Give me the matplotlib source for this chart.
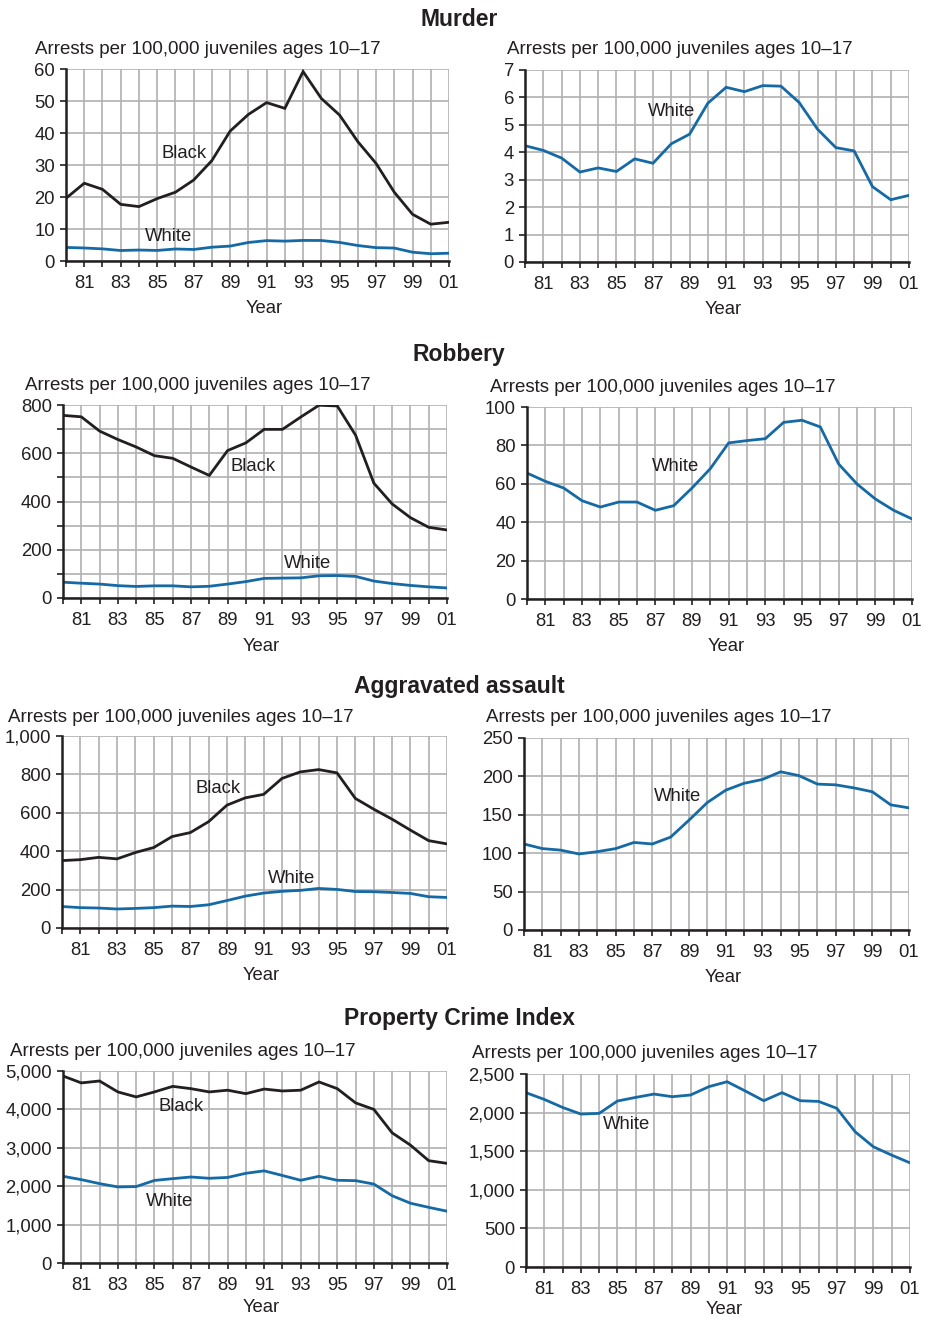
import matplotlib
matplotlib.use("Agg")
import matplotlib.pyplot as plt

plt.rcParams['font.family'] = ['Liberation Sans', 'DejaVu Sans']

years = list(range(1980, 2002))

# Murder
murder_black = [19.6, 24.3, 22.4, 17.7, 17.0, 19.5, 21.5, 25.3, 31.4, 40.6, 45.8,
                49.5, 47.7, 59.2, 50.8, 45.6, 37.3, 30.5, 21.5, 14.6, 11.5, 12.1]
murder_white = [4.24, 4.07, 3.79, 3.28, 3.43, 3.30, 3.76, 3.60, 4.31, 4.66, 5.79,
                6.37, 6.21, 6.43, 6.41, 5.81, 4.84, 4.17, 4.05, 2.75, 2.27, 2.43]

# Robbery
robbery_black = [757, 751, 692, 657, 626, 590, 579, 543, 508, 611, 643,
                 699, 699, 750, 799, 796, 675, 476, 390, 333, 293, 282]
robbery_white = [65.6, 61.3, 57.8, 51.2, 47.9, 50.5, 50.5, 46.2, 48.6, 57.8, 67.9,
                 81.3, 82.5, 83.5, 92.0, 93.1, 89.6, 70.3, 59.9, 52.1, 46.2, 41.7]

# Aggravated assault
assault_black = [351, 356, 368, 360, 393, 419, 476, 497, 554, 640, 678,
                 696, 779, 813, 825, 808, 675, 619, 567, 510, 455, 438]
assault_white = [112, 106, 104, 99, 102, 106, 114, 112, 121, 143, 166,
                 182, 191, 196, 206, 201, 190, 189, 185, 180, 163, 159]

# Property Crime Index
property_black = [4870, 4690, 4740, 4455, 4325, 4455, 4600, 4540, 4455, 4500, 4410,
                  4530, 4480, 4500, 4715, 4540, 4170, 4000, 3390, 3070, 2665, 2595]
property_white = [2258, 2171, 2067, 1981, 1990, 2150, 2197, 2240, 2206, 2228, 2336,
                  2400, 2279, 2154, 2258, 2154, 2145, 2055, 1752, 1557, 1449, 1349]

titles = ["Murder", "Robbery", "Aggravated assault", "Property Crime Index"]
subtitle = "Arrests per 100,000 juveniles ages 10\u201317"

BLACK = '#231f20'
BLUE = '#156aa6'
GRID = '#b0b0b0'
W, H = 933, 1319

fig = plt.figure(figsize=(W / 100, H / 100), dpi=100)


def add_panel(box, series, ylim, yticks, labels, minor=None, sub_x=0, sub_y=0, year_y=-0.205):
    left, top, right, bottom = box
    ax = fig.add_axes([left / W, 1 - bottom / H, (right - left) / W, (bottom - top) / H])
    for vals, color in series:
        ax.plot(years, vals, color=color, lw=2.0, solid_joinstyle='miter', zorder=3)
    ax.set_xlim(1980, 2001)
    ax.set_ylim(*ylim)
    ax.set_xticks(years)
    ax.set_xticklabels([("%02d" % (y % 100)) if y % 2 == 1 else "" for y in years])
    ax.set_yticks(yticks)
    ax.set_yticklabels(["{:,}".format(v) for v in yticks])
    if minor:
        ax.set_yticks(minor, minor=True)
        ax.grid(True, which='minor', axis='y', color=GRID, lw=1.2)
    ax.grid(True, color=GRID, lw=1.2)
    ax.set_axisbelow(True)
    for s in ['top', 'right']:
        ax.spines[s].set_visible(False)
    for s in ['left', 'bottom']:
        ax.spines[s].set_linewidth(1.8)
        ax.spines[s].set_color(BLACK)
        ax.spines[s].set_zorder(4)
    ax.tick_params(which='both', direction='out', length=4, width=1.2, color=BLACK,
                   labelsize=13.3, labelcolor=BLACK, pad=4)
    ax.tick_params(axis='x', pad=6)
    ax.set_xlabel("Year", fontsize=13.3, color=BLACK, labelpad=5)
    ax.xaxis.set_label_coords(0.517, year_y)
    for txt, x, y in labels:
        ax.text(x, y, txt, fontsize=13.3, color=BLACK, ha='center', va='center', zorder=5)
    fig.text(sub_x / W, 1 - sub_y / H, subtitle, fontsize=13.5, color=BLACK,
             ha='left', va='center')
    return ax


# Murder
add_panel((66, 69, 449, 261), [(murder_black, BLACK), (murder_white, BLUE)],
          (0, 60), [0, 10, 20, 30, 40, 50, 60],
          [("Black", 1986.5, 33.7), ("White", 1985.6, 7.8)], sub_x=35, sub_y=50)
add_panel((525, 70, 909, 262), [(murder_white, BLUE)],
          (0, 7), [0, 1, 2, 3, 4, 5, 6, 7],
          [("White", 1988.0, 5.5)], sub_x=507, sub_y=50)

# Robbery
add_panel((63, 405, 447, 598), [(robbery_black, BLACK), (robbery_white, BLUE)],
          (0, 800), [0, 200, 400, 600, 800],
          [("Black", 1990.4, 547), ("White", 1993.4, 145)],
          minor=[100, 300, 500, 700], sub_x=25, sub_y=386)
add_panel((527, 407, 912, 599), [(robbery_white, BLUE)],
          (0, 100), [0, 20, 40, 60, 80, 100],
          [("White", 1988.1, 69)], sub_x=490, sub_y=388)

# Aggravated assault
add_panel((62, 736, 447, 928), [(assault_black, BLACK), (assault_white, BLUE)],
          (0, 1000), [0, 200, 400, 600, 800, 1000],
          [("Black", 1988.5, 729), ("White", 1992.5, 260)], sub_x=8, sub_y=718)
add_panel((524, 738, 909, 930), [(assault_white, BLUE)],
          (0, 250), [0, 50, 100, 150, 200, 250],
          [("White", 1988.35, 174)], sub_x=486, sub_y=718)

# Property Crime Index
add_panel((63, 1071, 447, 1263), [(property_black, BLACK), (property_white, BLUE)],
          (0, 5000), [0, 1000, 2000, 3000, 4000, 5000],
          [("Black", 1986.45, 4088), ("White", 1985.85, 1614)], sub_x=10, sub_y=1052,
          year_y=-0.19)
add_panel((526, 1074, 910, 1267), [(property_white, BLUE)],
          (0, 2500), [0, 500, 1000, 1500, 2000, 2500],
          [("White", 1985.5, 1840)], sub_x=472, sub_y=1053, year_y=-0.175)

for title, ypx in zip(titles, [19, 355, 686, 1019]):
    fig.text(459 / W, 1 - ypx / H, title, fontsize=16.5, fontweight='bold',
             color=BLACK, ha='center', va='center')

fig.savefig("out.png", dpi=100)
